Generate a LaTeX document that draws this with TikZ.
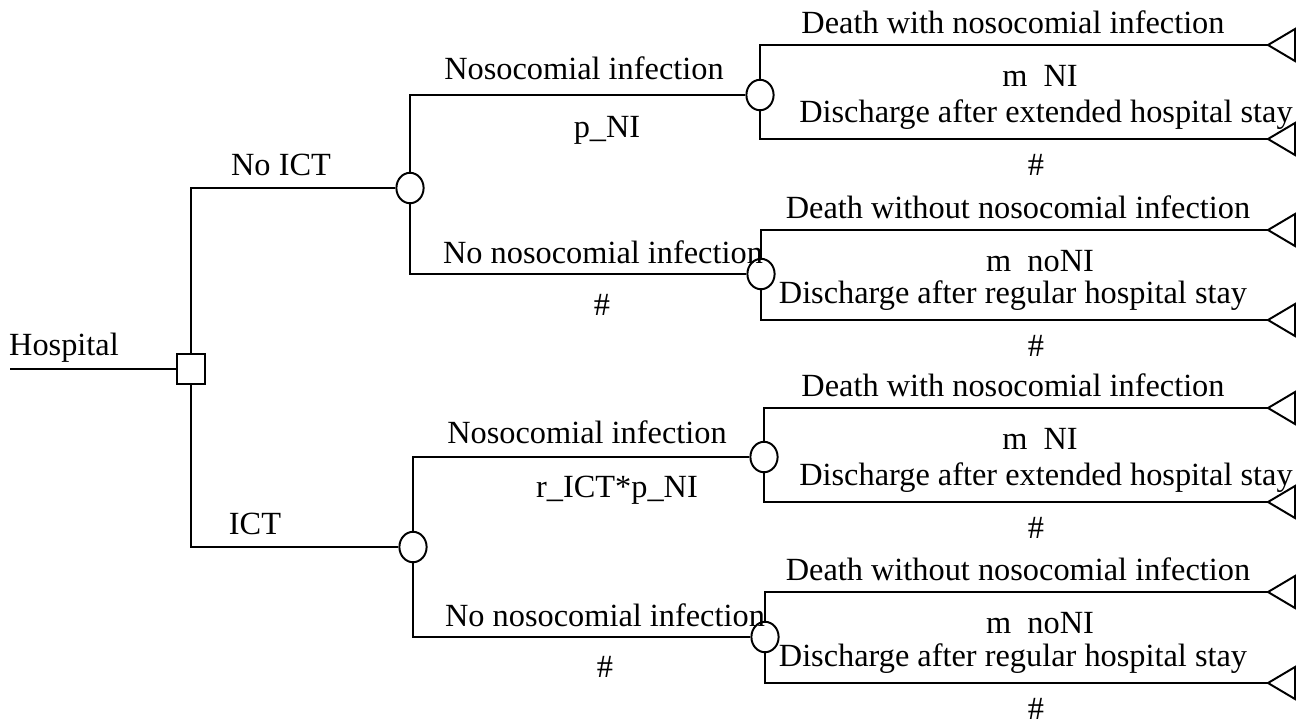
\documentclass[tikz,border=0pt]{standalone}
\usepackage{fontspec}
\setmainfont{Liberation Serif}
\usetikzlibrary{shapes.geometric}

\begin{document}
\begin{tikzpicture}
[x=0.0125cm, y=-0.0125cm, line width=0.7pt,
 font=\fontsize{11.5}{13}\selectfont,
 decision/.style={draw, rectangle, minimum width=0.34cm, minimum height=0.37cm, inner sep=0pt},
 chance/.style={draw, ellipse, minimum width=0.34cm, minimum height=0.38cm, inner sep=0pt}]
\useasboundingbox (0,0) rectangle (1306,727);

% decision node
\coordinate (root) at (10,369);
\node [decision] (hosp) at (191,369) {};
\draw (root)--(hosp);
\node (hosplab) at (64,348) {Hospital};

% chance nodes
\node [chance] (noict) at (410,188) {};
\node [chance] (ict) at (413,547) {};
\node [chance] (noictNI) at (760,95) {};
\node [chance] (noictnoNI) at (761,274) {};
\node [chance] (ictNI) at (764,457) {};
\node [chance] (ictnoNI) at (765,637) {};

\draw (hosp.north) |- (noict.west);
\draw (hosp.south) |- (ict.west);
\node (noictlab) at (281,165) {No ICT};
\node (ictlab) at (255,524) {ICT};

\draw (noict.north) |- (noictNI.west);
\draw (noict.south) |- (noictnoNI.west);
\node (lab1) at (584,68) {Nosocomial infection};
\node (prob1) at (607,130) {p\_NI};
\node (lab2) at (603,252) {No nosocomial infection};
\node (prob2) at (602,305) {\#};

\draw (ict.north) |- (ictNI.west);
\draw (ict.south) |- (ictnoNI.west);
\node (lab3) at (587,432) {Nosocomial infection};
\node (prob3) at (617,490) {r\_ICT*p\_NI};
\node (lab4) at (605,615) {No nosocomial infection};
\node (prob4) at (605,667) {\#};

% terminal nodes
\foreach \n/\y in {1/45, 2/139, 3/230, 4/320, 5/408, 6/502, 7/592, 8/683}{
  \coordinate (end\n) at (1268,\y);
  \draw (end\n) -- ++(27,-16) -- ++(0,32) -- cycle;
}

\draw (noictNI.north) |- (end1);
\draw (noictNI.south) |- (end2);
\draw (noictnoNI.north) |- (end3);
\draw (noictnoNI.south) |- (end4);
\draw (ictNI.north) |- (end5);
\draw (ictNI.south) |- (end6);
\draw (ictnoNI.north) |- (end7);
\draw (ictnoNI.south) |- (end8);

% outcome labels
\foreach \n/\ya/\yb/\kind/\mname/\stay/\xd/\xs in
  {1/45/139/with/NI/extended/1013/1046, 2/230/320/without/noNI/regular/1018/1013,
   3/408/502/with/NI/extended/1013/1046, 4/592/683/without/noNI/regular/1018/1013}{
  \node (death\n) at (\xd,{\ya-23}) {Death \kind\ nosocomial infection};
  \node (cost\n) at (1040,{\ya+31}) {m\ \ \mname};
  \node (disch\n) at (\xs,{\yb-24}) {Discharge after \stay\ hospital stay};
  \node (rest\n) at (1036,{\yb+26}) {\#};
}
\end{tikzpicture}
\end{document}
